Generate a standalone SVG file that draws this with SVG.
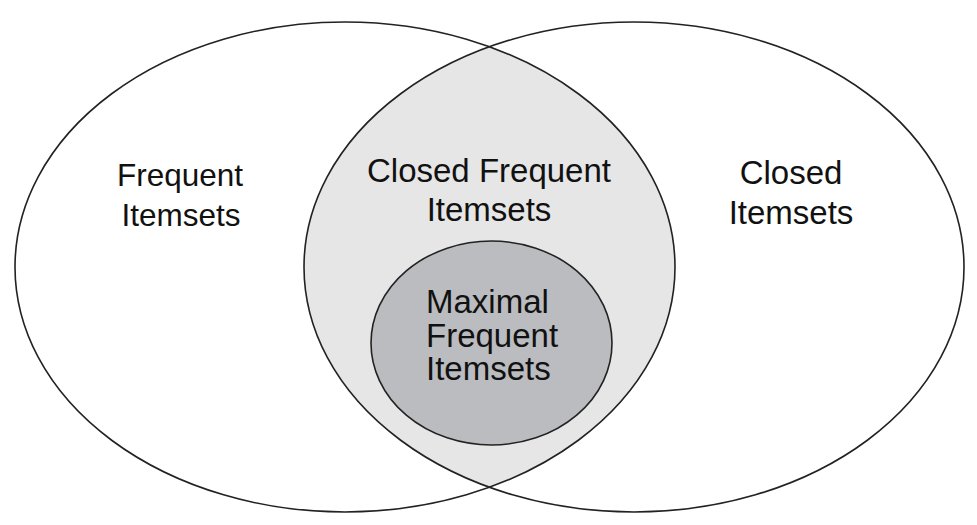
<svg xmlns="http://www.w3.org/2000/svg" width="977" height="525" viewBox="0 0 977 525">
<style>
.outline{fill:none;stroke:#222;stroke-width:1.6}
.lbl{font-family:"Liberation Sans",Arial,sans-serif;font-size:33px;fill:#111}
</style>
<defs>
<clipPath id="clipL"><ellipse cx="345" cy="267" rx="330" ry="245"/></clipPath>
</defs>
<rect width="977" height="525" fill="#fff"/>
<g id="lens-fill">
<ellipse cx="634" cy="267" rx="330" ry="245" fill="#e6e6e6" clip-path="url(#clipL)"/>
</g>
<g id="frequent-itemsets">
<ellipse class="outline" cx="345" cy="267" rx="330" ry="245"/>
<text class="lbl" style="font-size:31.5px" text-anchor="middle"><tspan x="180" y="186">Frequent</tspan><tspan x="181" y="226">Itemsets</tspan></text>
</g>
<g id="closed-itemsets">
<ellipse class="outline" cx="634" cy="267" rx="330" ry="245"/>
<text class="lbl" text-anchor="middle"><tspan x="791" y="184">Closed</tspan><tspan x="791" y="224">Itemsets</tspan></text>
</g>
<g id="closed-frequent-itemsets">
<text class="lbl" text-anchor="middle"><tspan x="489" y="182">Closed Frequent</tspan><tspan x="489" y="221">Itemsets</tspan></text>
</g>
<g id="maximal-frequent-itemsets">
<ellipse cx="491.5" cy="343" rx="120.5" ry="102" fill="#bbbcc0" stroke="#222" stroke-width="1.6"/>
<text class="lbl"><tspan x="426" y="313">Maximal</tspan><tspan x="426" y="346.5">Frequent</tspan><tspan x="426" y="380">Itemsets</tspan></text>
</g>
<g id="connectors"/>
</svg>
